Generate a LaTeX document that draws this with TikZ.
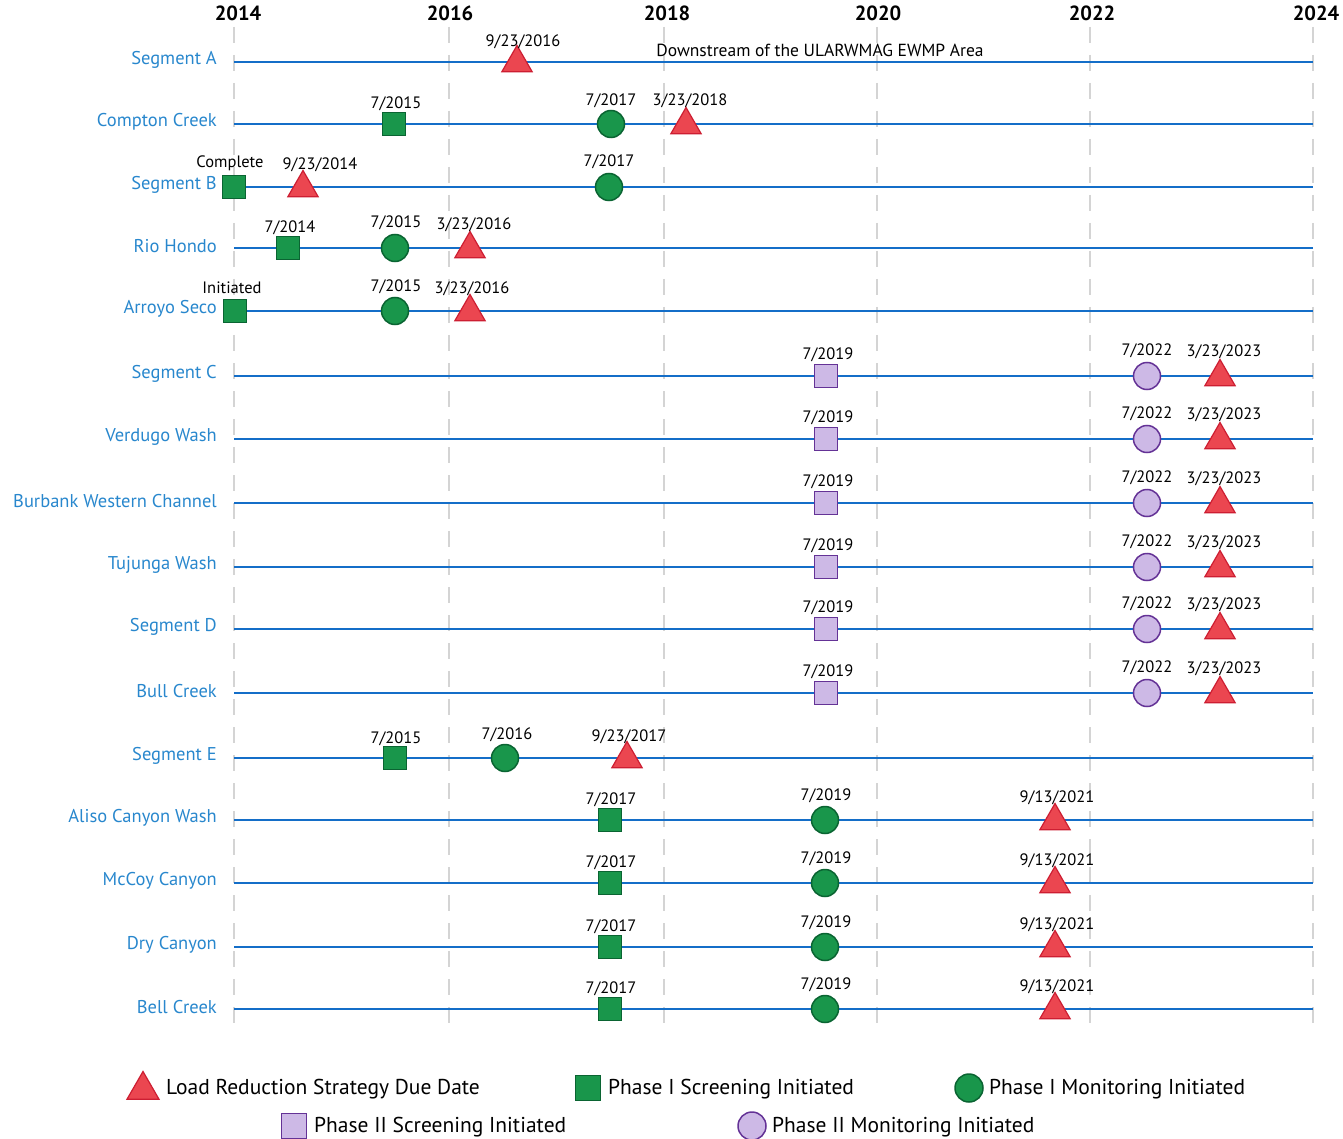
\documentclass[tikz,border=0pt]{standalone}
\usepackage{fontspec}
\setmainfont{PT Sans}
\usetikzlibrary{shapes.geometric}
\definecolor{lineblue}{RGB}{20,110,200}
\definecolor{labblue}{RGB}{40,135,205}
\definecolor{gfill}{RGB}{25,150,75}
\definecolor{gdraw}{RGB}{10,100,50}
\definecolor{rfill}{RGB}{235,70,80}
\definecolor{rdraw}{RGB}{205,30,50}
\definecolor{pfill}{RGB}{205,185,230}
\definecolor{pdraw}{RGB}{100,50,150}
\definecolor{gridgray}{RGB}{212,212,212}
\begin{document}
\begin{tikzpicture}[x=1pt,y=-1pt,
  sqG/.style={rectangle,draw=gdraw,fill=gfill,line width=1.5pt,minimum size=23pt,inner sep=0pt},
  cirG/.style={circle,draw=gdraw,fill=gfill,line width=1.5pt,minimum size=27pt,inner sep=0pt},
  sqP/.style={rectangle,draw=pdraw,fill=pfill,line width=1.5pt,minimum size=23pt,inner sep=0pt},
  cirP/.style={circle,draw=pdraw,fill=pfill,line width=1.5pt,minimum size=27pt,inner sep=0pt},
  triR/.style={regular polygon,regular polygon sides=3,draw=rdraw,fill=rfill,line width=1.2pt,minimum size=35pt,inner sep=0pt,yshift=-1pt},
  datelab/.style={font=\fontsize{16.5}{19}\selectfont,inner sep=0pt},
  rowlab/.style={font=\fontsize{18.5}{21}\selectfont,text=labblue,anchor=east,inner sep=0pt},
  yearlab/.style={font=\fontsize{20.5}{23}\selectfont\bfseries,inner sep=0pt},
  leglab/.style={font=\fontsize{21.5}{25}\selectfont,anchor=west,inner sep=0pt},
  rowline/.style={lineblue,line width=2.8pt},
  gridline/.style={gridgray,line width=2pt,dash pattern=on 16pt off 12pt}
]
\useasboundingbox (0,0) rectangle (1343,1139);
% years and grid
\foreach \yr/\x in {2014/238,2016/450,2018/667,2020/878,2022/1092,2024/1316}{
  \node[yearlab] (yr\yr) at (\x,13) {\yr};
}
\foreach \x in {234,449,664,877,1090,1313}{
  \draw[gridline] (\x,27) -- (\x,1025);
}
% rows
\foreach \i/\nm/\y in {1/Segment A/62,2/Compton Creek/124,3/Segment B/187,4/Rio Hondo/248,5/Arroyo Seco/311,6/Segment C/376,7/Verdugo Wash/439,8/Burbank Western Channel/503,9/Tujunga Wash/567,10/Segment D/629,11/Bull Creek/693,12/Segment E/758,13/Aliso Canyon Wash/820,14/McCoy Canyon/883,15/Dry Canyon/947,16/Bell Creek/1009}{
  \node[rowlab] (lab\i) at (217,\y-2) {\nm};
  \coordinate (s\i) at (234,\y);
  \coordinate (e\i) at (1313,\y);
  \draw[rowline] (s\i) -- (e\i);
}
% Segment A
\node[triR] (a1) at (517,62) {};
\node[datelab] at (523,42) {9/23/2016};
\node[datelab,font=\fontsize{17.5}{20}\selectfont] (ds) at (820,50) {Downstream of the ULARWMAG EWMP Area};
% Compton Creek
\node[sqG] (b1) at (394,124) {};
\node[datelab] at (396,104) {7/2015};
\node[cirG] (b2) at (611,124) {};
\node[datelab] at (611,101) {7/2017};
\node[triR] (b3) at (686,124) {};
\node[datelab] at (690,101) {3/23/2018};
% Segment B
\node[sqG] (c1) at (234,187) {};
\node[datelab] at (230,163) {Complete};
\node[triR] (c2) at (303,187) {};
\node[datelab] at (320,165) {9/23/2014};
\node[cirG] (c3) at (609,187) {};
\node[datelab] at (609,162) {7/2017};
% Rio Hondo
\node[sqG] (d1) at (288,248) {};
\node[datelab] at (290,228) {7/2014};
\node[cirG] (d2) at (395,248) {};
\node[datelab] at (396,223) {7/2015};
\node[triR] (d3) at (470,248) {};
\node[datelab] at (474,225) {3/23/2016};
% Arroyo Seco
\node[sqG] (f1) at (235,311) {};
\node[datelab] at (232,288) {Initiated};
\node[cirG] (f2) at (395,311) {};
\node[datelab] at (396,287) {7/2015};
\node[triR] (f3) at (470,311) {};
\node[datelab] at (472,289) {3/23/2016};
% Phase II rows
\foreach \r/\y in {6/376,7/439,8/503,9/567,10/629,11/693}{
  \node[sqP] (p\r a) at (826,\y) {};
  \node[datelab] at (828,\y-21) {7/2019};
  \node[cirP] (p\r b) at (1147,\y) {};
  \node[datelab] at (1147,\y-25) {7/2022};
  \node[triR] (p\r c) at (1220,\y) {};
  \node[datelab] at (1224,\y-24) {3/23/2023};
}
% Segment E
\node[sqG] (g1) at (395,758) {};
\node[datelab] at (396,739) {7/2015};
\node[cirG] (g2) at (505,758) {};
\node[datelab] at (507,735) {7/2016};
\node[triR] (g3) at (627,758) {};
\node[datelab] at (629,737) {9/23/2017};
% lower rows
\foreach \r/\y in {13/820,14/883,15/947,16/1009}{
  \node[sqG] (q\r a) at (610,\y) {};
  \node[datelab] at (611,\y-20) {7/2017};
  \node[cirG] (q\r b) at (825,\y) {};
  \node[datelab] at (826,\y-24) {7/2019};
  \node[triR] (q\r c) at (1055,\y) {};
  \node[datelab] at (1057,\y-22) {9/13/2021};
}
% legend
\node[triR,minimum size=37pt] (l1) at (143,1089) {};
\node[leglab] (lt1) at (166,1089) {Load Reduction Strategy Due Date};
\node[sqG,minimum size=25pt] (l2) at (588,1088) {};
\node[leglab] (lt2) at (608,1089) {Phase I Screening Initiated};
\node[cirG,minimum size=28pt] (l3) at (969,1088) {};
\node[leglab] (lt3) at (989,1089) {Phase I Monitoring Initiated};
\node[sqP,minimum size=25pt] (l4) at (294,1126) {};
\node[leglab] (lt4) at (314,1127) {Phase II Screening Initiated};
\node[cirP,minimum size=28pt] (l5) at (752,1126) {};
\node[leglab] (lt5) at (772,1127) {Phase II Monitoring Initiated};
\end{tikzpicture}
\end{document}
